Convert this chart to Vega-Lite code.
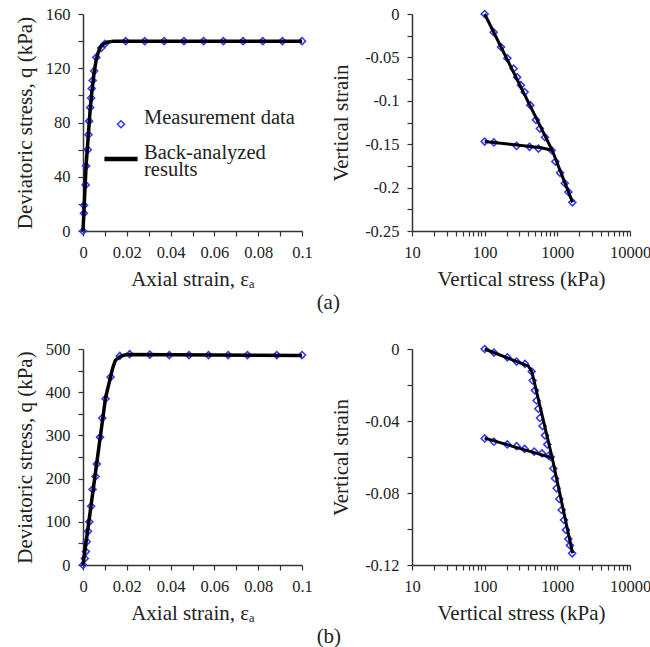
{
  "$schema": "https://vega.github.io/schema/vega-lite/v6.json",
  "padding": {"left": 14, "top": 6, "right": 0, "bottom": 0},
  "background": "white",
  "datasets": {
    "aLP": [
      {"x": 0, "y": 0, "s": "Measurement data"},
      {"x": 0.0004, "y": 13, "s": "Measurement data"},
      {"x": 0.0005, "y": 19, "s": "Measurement data"},
      {"x": 0.0012, "y": 34, "s": "Measurement data"},
      {"x": 0.0014, "y": 48, "s": "Measurement data"},
      {"x": 0.0022, "y": 60, "s": "Measurement data"},
      {"x": 0.0025, "y": 71, "s": "Measurement data"},
      {"x": 0.0028, "y": 81, "s": "Measurement data"},
      {"x": 0.0033, "y": 91, "s": "Measurement data"},
      {"x": 0.0037, "y": 98, "s": "Measurement data"},
      {"x": 0.0040, "y": 105, "s": "Measurement data"},
      {"x": 0.0044, "y": 111, "s": "Measurement data"},
      {"x": 0.0051, "y": 118, "s": "Measurement data"},
      {"x": 0.0061, "y": 128, "s": "Measurement data"},
      {"x": 0.0083, "y": 135, "s": "Measurement data"},
      {"x": 0.0100, "y": 138, "s": "Measurement data"},
      {"x": 0.0195, "y": 140, "s": "Measurement data"},
      {"x": 0.0282, "y": 140, "s": "Measurement data"},
      {"x": 0.0371, "y": 140, "s": "Measurement data"},
      {"x": 0.0461, "y": 140, "s": "Measurement data"},
      {"x": 0.0551, "y": 140, "s": "Measurement data"},
      {"x": 0.0641, "y": 140, "s": "Measurement data"},
      {"x": 0.0731, "y": 140, "s": "Measurement data"},
      {"x": 0.0821, "y": 140, "s": "Measurement data"},
      {"x": 0.0911, "y": 140, "s": "Measurement data"},
      {"x": 0.1, "y": 140, "s": "Measurement data"}
    ],
    "aLL": [
      {"x": 0, "y": 0}, {"x": 0.0014, "y": 48}, {"x": 0.0024, "y": 70},
      {"x": 0.0032, "y": 88}, {"x": 0.004, "y": 102}, {"x": 0.005, "y": 116},
      {"x": 0.006, "y": 126}, {"x": 0.007, "y": 132}, {"x": 0.008, "y": 135.5},
      {"x": 0.009, "y": 137.5}, {"x": 0.011, "y": 139.2}, {"x": 0.014, "y": 140},
      {"x": 0.1, "y": 140}
    ],
    "bLP": [
      {"x": 0, "y": 0}, {"x": 0.0008, "y": 15}, {"x": 0.0013, "y": 31},
      {"x": 0.0017, "y": 54}, {"x": 0.0023, "y": 78}, {"x": 0.0029, "y": 100},
      {"x": 0.0037, "y": 136}, {"x": 0.0044, "y": 175}, {"x": 0.0057, "y": 205},
      {"x": 0.0063, "y": 234}, {"x": 0.0078, "y": 296}, {"x": 0.0088, "y": 340},
      {"x": 0.0103, "y": 385}, {"x": 0.0126, "y": 435}, {"x": 0.0168, "y": 484},
      {"x": 0.0213, "y": 488}, {"x": 0.0305, "y": 487}, {"x": 0.0394, "y": 486},
      {"x": 0.0484, "y": 486}, {"x": 0.0573, "y": 486}, {"x": 0.0663, "y": 486},
      {"x": 0.0751, "y": 486}, {"x": 0.0885, "y": 486}, {"x": 0.1, "y": 486}
    ],
    "bLL": [
      {"x": 0, "y": 0}, {"x": 0.0103, "y": 387}, {"x": 0.0135, "y": 455},
      {"x": 0.0148, "y": 474}, {"x": 0.017, "y": 483}, {"x": 0.02, "y": 487},
      {"x": 0.1, "y": 485}
    ],
    "aRP": [
      {"x": 100, "y": 0}, {"x": 133, "y": -0.021}, {"x": 168, "y": -0.038},
      {"x": 205, "y": -0.051}, {"x": 250, "y": -0.063}, {"x": 280, "y": -0.073},
      {"x": 315, "y": -0.082}, {"x": 355, "y": -0.090}, {"x": 425, "y": -0.105},
      {"x": 508, "y": -0.122}, {"x": 575, "y": -0.132}, {"x": 676, "y": -0.142},
      {"x": 835, "y": -0.157}, {"x": 940, "y": -0.170}, {"x": 1090, "y": -0.183},
      {"x": 1265, "y": -0.195}, {"x": 1420, "y": -0.205}, {"x": 1610, "y": -0.217},
      {"x": 100, "y": -0.147}, {"x": 134, "y": -0.148}, {"x": 275, "y": -0.152},
      {"x": 415, "y": -0.153}, {"x": 550, "y": -0.155}
    ],
    "aRL": [
      {"x": 100, "y": 0, "seg": "load"}, {"x": 850, "y": -0.157, "seg": "load"},
      {"x": 1620, "y": -0.217, "seg": "load"},
      {"x": 100, "y": -0.147, "seg": "unload"}, {"x": 600, "y": -0.154, "seg": "unload"},
      {"x": 850, "y": -0.157, "seg": "unload"}
    ],
    "bRP": [
      {"x": 100, "y": 0}, {"x": 134, "y": -0.002}, {"x": 205, "y": -0.0046},
      {"x": 275, "y": -0.007}, {"x": 359, "y": -0.0083}, {"x": 444, "y": -0.0125},
      {"x": 458, "y": -0.0175}, {"x": 492, "y": -0.023}, {"x": 519, "y": -0.0286},
      {"x": 547, "y": -0.0332}, {"x": 577, "y": -0.0383}, {"x": 626, "y": -0.0428},
      {"x": 676, "y": -0.048}, {"x": 728, "y": -0.053}, {"x": 810, "y": -0.060},
      {"x": 881, "y": -0.0664}, {"x": 929, "y": -0.0719}, {"x": 979, "y": -0.0774},
      {"x": 1064, "y": -0.0833}, {"x": 1148, "y": -0.0894}, {"x": 1236, "y": -0.095},
      {"x": 1317, "y": -0.1005}, {"x": 1417, "y": -0.1055}, {"x": 1494, "y": -0.1091},
      {"x": 1600, "y": -0.1135},
      {"x": 100, "y": -0.0497}, {"x": 134, "y": -0.0515}, {"x": 205, "y": -0.053},
      {"x": 275, "y": -0.054}, {"x": 355, "y": -0.0555}, {"x": 480, "y": -0.057},
      {"x": 615, "y": -0.058}, {"x": 760, "y": -0.0593}
    ],
    "bRL": [
      {"x": 100, "y": 0, "seg": "load"}, {"x": 400, "y": -0.0095, "seg": "load"},
      {"x": 445, "y": -0.0125, "seg": "load"}, {"x": 850, "y": -0.0605, "seg": "load"},
      {"x": 1620, "y": -0.1135, "seg": "load"},
      {"x": 100, "y": -0.0495, "seg": "unload"}, {"x": 850, "y": -0.0605, "seg": "unload"}
    ]
  },
  "bounds": "flush",
  "columns": 2,
  "spacing": {"row": 118, "column": 110},
  "concat": [
    {
      "width": 219, "height": 217,
      "encoding": {
        "x": {"field": "x", "type": "quantitative", "scale": {"domain": [0, 0.1], "nice": false},
          "axis": {"title": "Axial strain, εₐ", "values": [0, 0.01, 0.02, 0.03, 0.04, 0.05, 0.06, 0.07, 0.08, 0.09, 0.1], "format": ".2~f", "labelExpr": "round(datum.value*100) % 2 == 0 ? datum.label : ''"}},
        "y": {"field": "y", "type": "quantitative", "scale": {"domain": [0, 160], "nice": false},
          "axis": {"title": "Deviatoric stress, q (kPa)", "titlePadding": 10, "values": [0, 20, 40, 60, 80, 100, 120, 140, 160], "labelExpr": "datum.value % 40 == 0 ? datum.label : ''"}}
      },
      "layer": [
        {
          "data": {"name": "aLP"},
          "mark": {"type": "point", "filled": false, "opacity": 1},
          "encoding": {
            "shape": {"field": "s", "type": "nominal", "scale": {"domain": ["Measurement data", "Back-analyzed results"], "range": ["diamond", "stroke"]},
              "legend": {"title": null, "orient": "none", "legendX": 19, "legendY": 100, "labelFont": "Liberation Serif", "labelFontSize": 20.5, "labelColor": "#222", "labelOffset": 4, "rowPadding": 9, "labelLimit": 300, "labelBaseline": "alphabetic",
                "labelExpr": "datum.label == 'Back-analyzed results' ? ['Back-analyzed', ' results'] : datum.label"}},
            "color": {"field": "s", "type": "nominal", "scale": {"domain": ["Measurement data", "Back-analyzed results"], "range": ["#3333ff", "#000000"]}},
            "size": {"field": "s", "type": "nominal", "scale": {"domain": ["Measurement data", "Back-analyzed results"], "range": [50, 1100]}},
            "strokeWidth": {"field": "s", "type": "nominal", "scale": {"domain": ["Measurement data", "Back-analyzed results"], "range": [1.5, 4.5]}}
          }
        },
        {
          "data": {"name": "aLL"},
          "mark": {"type": "line", "color": "#000000", "strokeWidth": 3.5},
          "encoding": {}
        }
      ]
    },
    {
      "width": 218, "height": 217,
      "title": {"text": "(a)", "orient": "bottom", "anchor": "start", "frame": "bounds", "offset": 0, "dx": -14, "dy": 2, "fontSize": 21, "font": "Liberation Serif", "fontWeight": "normal", "color": "#222"},
      "encoding": {
        "x": {"field": "x", "type": "quantitative", "scale": {"type": "log", "domain": [10, 10000], "nice": false},
          "axis": {"title": "Vertical stress (kPa)", "format": "d", "values": [10, 20, 30, 40, 50, 60, 70, 80, 90, 100, 200, 300, 400, 500, 600, 700, 800, 900, 1000, 2000, 3000, 4000, 5000, 6000, 7000, 8000, 9000, 10000], "labelExpr": "datum.value == 10 || datum.value == 100 || datum.value == 1000 || datum.value == 10000 ? datum.label : ''"}},
        "y": {"field": "y", "type": "quantitative", "scale": {"domain": [-0.25, 0], "nice": false},
          "axis": {"title": "Vertical strain", "titlePadding": 13, "format": ".2~f", "values": [0, -0.025, -0.05, -0.075, -0.1, -0.125, -0.15, -0.175, -0.2, -0.225, -0.25], "labelExpr": "round(datum.value*1000) % 50 == 0 ? replace(datum.label, '−', '-') : ''"}}
      },
      "layer": [
        {
          "data": {"name": "aRP"},
          "mark": {"type": "point", "shape": "diamond", "filled": false, "color": "#3333ff", "strokeWidth": 1.5, "size": 50, "opacity": 1},
          "encoding": {}
        },
        {
          "data": {"name": "aRL"},
          "mark": {"type": "line", "color": "#000000", "strokeWidth": 3},
          "encoding": {"detail": {"field": "seg"}}
        }
      ]
    },
    {
      "width": 219, "height": 216,
      "encoding": {
        "x": {"field": "x", "type": "quantitative", "scale": {"domain": [0, 0.1], "nice": false},
          "axis": {"title": "Axial strain, εₐ", "values": [0, 0.01, 0.02, 0.03, 0.04, 0.05, 0.06, 0.07, 0.08, 0.09, 0.1], "format": ".2~f", "labelExpr": "round(datum.value*100) % 2 == 0 ? datum.label : ''"}},
        "y": {"field": "y", "type": "quantitative", "scale": {"domain": [0, 500], "nice": false},
          "axis": {"title": "Deviatoric stress, q (kPa)", "titlePadding": 10, "values": [0, 50, 100, 150, 200, 250, 300, 350, 400, 450, 500], "labelExpr": "datum.value % 100 == 0 ? datum.label : ''"}}
      },
      "layer": [
        {
          "data": {"name": "bLP"},
          "mark": {"type": "point", "shape": "diamond", "filled": false, "color": "#3333ff", "strokeWidth": 1.5, "size": 50, "opacity": 1},
          "encoding": {}
        },
        {
          "data": {"name": "bLL"},
          "mark": {"type": "line", "color": "#000000", "strokeWidth": 3.5},
          "encoding": {}
        }
      ]
    },
    {
      "width": 218, "height": 216,
      "title": {"text": "(b)", "orient": "bottom", "anchor": "start", "frame": "bounds", "offset": 0, "dx": -14, "dy": 2, "fontSize": 21, "font": "Liberation Serif", "fontWeight": "normal", "color": "#222"},
      "encoding": {
        "x": {"field": "x", "type": "quantitative", "scale": {"type": "log", "domain": [10, 10000], "nice": false},
          "axis": {"title": "Vertical stress (kPa)", "format": "d", "values": [10, 20, 30, 40, 50, 60, 70, 80, 90, 100, 200, 300, 400, 500, 600, 700, 800, 900, 1000, 2000, 3000, 4000, 5000, 6000, 7000, 8000, 9000, 10000], "labelExpr": "datum.value == 10 || datum.value == 100 || datum.value == 1000 || datum.value == 10000 ? datum.label : ''"}},
        "y": {"field": "y", "type": "quantitative", "scale": {"domain": [-0.12, 0], "nice": false},
          "axis": {"title": "Vertical strain", "titlePadding": 13, "format": ".2~f", "values": [0, -0.02, -0.04, -0.06, -0.08, -0.1, -0.12], "labelExpr": "round(datum.value*100) % 4 == 0 ? replace(datum.label, '−', '-') : ''"}}
      },
      "layer": [
        {
          "data": {"name": "bRP"},
          "mark": {"type": "point", "shape": "diamond", "filled": false, "color": "#3333ff", "strokeWidth": 1.5, "size": 50, "opacity": 1},
          "encoding": {}
        },
        {
          "data": {"name": "bRL"},
          "mark": {"type": "line", "color": "#000000", "strokeWidth": 3},
          "encoding": {"detail": {"field": "seg"}}
        }
      ]
    }
  ],
  "config": {
    "font": "Liberation Serif",
    "view": {"stroke": null},
    "style": {"guide-label": {"lineHeight": 17}},
    "axis": {
      "labelFont": "Liberation Serif", "labelFontSize": 16.5, "labelColor": "#222",
      "titleFont": "Liberation Serif", "titleFontSize": 21, "titleFontWeight": "normal", "titleColor": "#222",
      "domainColor": "#333", "domainWidth": 1.5, "tickColor": "#333", "tickWidth": 1.2, "tickSize": 5,
      "grid": false, "labelFlush": false, "labelOverlap": false, "labelBound": false,
      "labelPadding": 8, "titlePadding": 8
    }
  }
}
